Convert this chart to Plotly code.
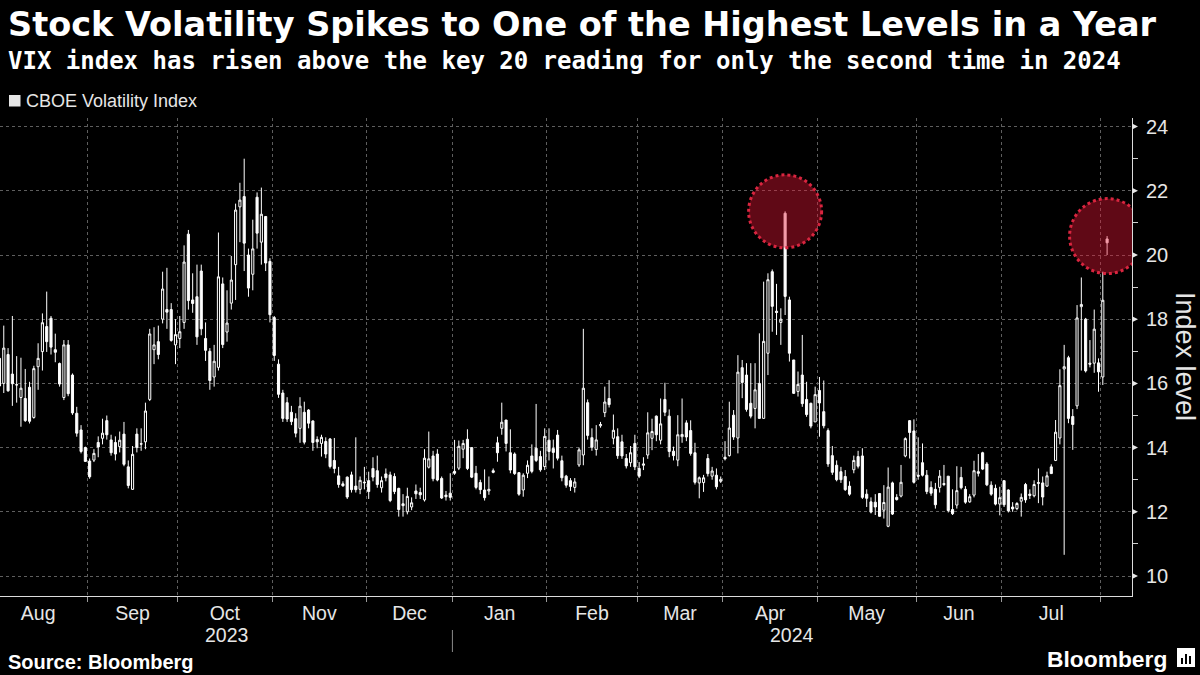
import pandas as pd
import plotly.graph_objects as go

# ---------------- data ----------------
# trading slots shown on the chart (weekdays; the three full closures are skipped)
closed_days = ["2023-12-25", "2024-01-01", "2024-03-29"]
dates = [d for d in pd.bdate_range("2023-08-03", "2024-08-02")
         if d.strftime("%Y-%m-%d") not in closed_days]

opens = [
    16.78, 16.00, 16.90, 16.29, 15.95, 15.56, 15.53, 15.88, 14.94, 16.52, 16.99, 17.77, 18.03, 17.05, 16.62, 15.56, 17.20, 16.26, 15.07, 14.55, 14.00,
    13.58, 13.61, 14.16, 14.29, 14.84, 14.24, 14.16, 14.03, 14.42, 13.40, 12.70, 14.42, 14.12, 14.18, 15.50, 17.05, 17.30, 18.00, 18.30, 18.30, 17.20,
    17.40, 17.90, 20.65, 18.60, 18.70, 19.50, 17.40, 17.00, 16.20, 16.50, 19.10, 17.60, 18.50, 19.70, 21.50, 21.82, 20.00, 19.40, 21.80, 20.40, 21.20, 19.80,
    18.05, 16.60, 15.70, 15.40, 15.10, 14.90, 14.60, 15.10, 15.17, 14.83, 14.25, 14.13, 14.19, 14.27, 13.60, 13.12, 12.87, 13.08, 13.15, 12.80, 12.70, 12.90,
    12.97, 13.35, 13.28, 12.75, 13.18, 13.15, 13.10, 12.73, 12.25, 12.00, 12.15, 12.65, 12.60, 12.37, 13.39, 13.74, 13.80, 13.04, 12.52, 12.58,
    13.26, 13.36, 13.95, 14.26, 14.00, 13.20, 12.91, 12.68, 12.65, 13.28, 14.15, 14.60, 14.86, 13.84, 13.80, 13.22, 12.68, 13.20, 13.74, 13.98, 13.72, 13.41,
    14.23, 13.97, 14.39, 13.59, 13.11, 12.97, 12.76, 13.46, 13.77, 15.40, 14.31, 13.94, 14.68, 15.09, 15.53, 14.29, 14.34, 14.18, 13.66, 13.53, 14.13,
    13.35, 13.45, 13.77, 14.29, 14.98, 14.23, 15.50, 14.98, 13.89, 13.61, 14.34, 14.77, 14.53, 13.84, 12.90, 12.91, 13.66, 13.11, 13.14, 12.95,
    13.70, 13.75, 15.01, 14.30, 16.49, 16.26, 15.38, 15.22, 16.00, 14.91, 16.94, 19.48, 18.25, 17.90, 21.30, 18.60, 16.73, 15.75, 16.26, 15.50, 15.38, 14.80,
    15.78, 15.12, 14.53, 13.75, 13.45, 13.25, 13.10, 12.80, 13.31, 13.72, 13.74, 12.55, 12.31, 12.30, 12.57, 12.05, 11.55, 12.90, 12.45, 12.49, 13.74, 14.84, 14.52,
    13.14, 13.53, 13.14, 12.76, 12.70, 12.76, 12.88, 13.11, 12.07, 12.21, 13.07, 12.70, 12.31, 12.52, 13.25, 13.84, 13.49, 12.83, 12.73, 12.24,
    12.97, 12.68, 12.15, 12.10, 12.33, 12.85, 12.55, 12.50, 12.88, 12.90, 12.80, 13.40, 13.60, 14.30, 16.45, 16.80, 14.97, 15.30, 18.39, 18.00, 16.63, 16.63, 16.64,
    16.20, 20.50,
]
highs = [
    17.30, 17.80, 17.10, 18.10, 16.85, 16.80, 16.45, 16.05, 16.55, 17.25, 18.18, 18.86, 18.10, 17.55, 16.65, 17.35, 17.35, 16.31, 15.27, 14.70, 14.03,
    13.66, 13.95, 14.35, 14.90, 15.00, 14.40, 14.35, 14.50, 14.80, 13.60, 14.05, 14.60, 14.60, 15.40, 17.70, 17.75, 17.80, 19.48, 19.60, 18.50, 18.00,
    18.10, 20.30, 20.78, 19.43, 19.70, 19.70, 17.90, 17.10, 17.20, 20.70, 19.30, 18.90, 19.97, 21.60, 22.25, 23.00, 20.20, 21.10, 21.95, 22.10, 21.20, 19.90,
    18.10, 16.75, 15.80, 15.57, 15.30, 15.07, 15.57, 15.43, 15.20, 14.85, 14.35, 14.40, 14.32, 14.30, 14.30, 13.40, 12.95, 13.10, 13.25, 14.32, 13.10, 13.40,
    13.25, 13.70, 13.75, 13.10, 13.35, 13.25, 13.20, 12.75, 12.55, 12.75, 12.45, 12.85, 12.75, 13.95, 14.50, 13.90, 13.95, 13.10, 12.65, 13.20,
    14.24, 14.22, 14.24, 14.57, 14.00, 13.43, 13.00, 13.32, 13.10, 13.35, 14.34, 15.40, 14.86, 14.57, 13.85, 13.22, 13.20, 13.60, 14.10, 15.36, 13.90, 14.60,
    14.60, 14.25, 14.55, 13.75, 13.15, 13.05, 13.05, 14.00, 17.70, 15.50, 14.60, 14.70, 14.80, 15.90, 16.10, 15.03, 14.60, 14.40, 13.80, 14.05, 14.40,
    13.55, 13.70, 15.10, 14.90, 15.00, 15.53, 16.02, 15.19, 14.03, 15.01, 15.53, 14.85, 14.85, 14.15, 13.10, 13.15, 13.80, 13.40, 13.35, 13.10,
    14.20, 15.43, 15.17, 16.88, 16.73, 16.63, 16.63, 16.63, 17.56, 19.17, 19.43, 19.55, 19.10, 18.34, 21.36, 18.70, 16.73, 16.37, 17.51, 16.05, 15.40, 15.90,
    16.20, 16.09, 14.60, 14.05, 13.60, 13.40, 13.30, 12.95, 13.75, 13.90, 13.98, 12.70, 12.45, 12.55, 12.57, 12.83, 13.38, 12.94, 12.55, 13.46, 14.32, 14.86, 14.88,
    14.32, 14.13, 13.30, 12.95, 12.90, 13.30, 13.46, 13.11, 12.70, 13.42, 13.40, 12.80, 12.55, 13.59, 13.80, 13.87, 13.55, 12.95, 12.85, 12.78,
    12.97, 12.70, 12.30, 12.30, 12.57, 12.90, 12.70, 12.98, 13.35, 13.10, 13.25, 13.48, 14.86, 16.44, 17.20, 16.86, 15.20, 18.44, 19.30, 18.04, 17.35, 18.30, 16.78,
    19.48, 20.59,
]
lows = [
    15.60, 15.70, 15.74, 15.30, 15.40, 14.65, 14.80, 14.75, 14.90, 15.80, 16.40, 16.98, 16.90, 16.66, 15.90, 15.48, 15.60, 15.02, 14.34, 13.82, 13.56,
    13.03, 13.55, 13.70, 14.10, 14.25, 13.75, 13.60, 13.85, 13.42, 12.73, 12.68, 13.85, 13.90, 13.95, 15.45, 16.60, 16.75, 17.87, 17.70, 17.30, 16.60,
    17.10, 17.70, 18.30, 18.20, 17.20, 17.50, 16.70, 15.80, 15.90, 16.40, 17.10, 17.30, 18.30, 18.60, 20.40, 19.50, 18.70, 18.90, 20.20, 19.70, 19.50, 17.90,
    16.70, 15.55, 14.80, 14.80, 14.70, 14.32, 14.15, 14.10, 14.60, 13.90, 13.98, 13.72, 13.67, 13.35, 13.20, 12.75, 12.78, 12.40, 12.60, 12.60, 12.55, 12.70,
    12.40, 12.95, 12.75, 12.60, 12.95, 12.30, 12.55, 11.85, 11.85, 11.92, 12.05, 12.40, 12.40, 12.32, 13.35, 12.95, 12.95, 12.40, 12.35, 12.35,
    13.15, 13.30, 13.67, 13.30, 13.05, 12.70, 12.55, 12.35, 12.53, 13.20, 13.56, 14.40, 13.88, 13.20, 13.15, 12.50, 12.47, 13.05, 13.20, 13.55, 13.25, 13.30,
    13.60, 13.35, 13.60, 12.95, 12.75, 12.65, 12.60, 13.40, 13.45, 14.25, 13.90, 13.75, 14.62, 14.95, 15.25, 14.10, 13.65, 13.65, 13.35, 13.40, 13.30,
    13.05, 13.30, 13.65, 13.92, 14.20, 14.10, 14.98, 13.70, 13.60, 13.42, 14.15, 14.20, 13.75, 12.85, 12.42, 12.62, 13.10, 13.00, 12.70, 12.90,
    13.60, 13.72, 14.24, 13.82, 15.54, 15.12, 14.91, 14.60, 14.91, 14.91, 16.26, 17.61, 17.51, 17.20, 18.13, 16.68, 15.67, 15.59, 15.27, 14.96, 14.60, 14.80,
    14.34, 14.60, 13.40, 13.15, 12.95, 12.90, 12.65, 12.50, 13.20, 13.35, 12.40, 12.15, 11.95, 11.90, 11.85, 11.79, 11.52, 11.90, 12.35, 12.45, 13.70, 13.66, 12.88,
    13.00, 13.10, 12.55, 12.50, 12.10, 12.60, 12.80, 11.98, 11.90, 12.10, 12.70, 12.25, 12.28, 12.45, 13.10, 13.30, 12.80, 12.50, 12.20, 11.89,
    12.15, 11.98, 12.00, 12.05, 11.85, 12.28, 12.40, 12.45, 12.27, 12.20, 12.78, 13.18, 13.58, 14.10, 10.66, 14.76, 13.93, 15.20, 16.40, 16.34, 16.50, 16.33, 15.74,
    15.95, 20.00,
]
closes = [
    15.92, 17.10, 15.77, 15.99, 15.96, 15.85, 14.84, 14.82, 16.46, 16.78, 17.89, 17.30, 17.13, 16.97, 15.98, 17.20, 15.68, 15.08, 14.45, 13.88, 13.57,
    13.09, 13.82, 14.02, 14.45, 14.40, 13.84, 13.80, 14.23, 13.48, 12.82, 13.79, 14.00, 14.11, 15.14, 17.54, 17.20, 16.90, 18.94, 18.22, 17.34, 17.52,
    17.61, 19.78, 18.58, 18.49, 17.45, 17.70, 17.03, 16.09, 16.69, 19.32, 17.21, 17.88, 19.22, 21.40, 21.71, 20.37, 18.97, 20.19, 20.68, 21.27, 19.75, 18.14,
    16.87, 15.66, 14.91, 14.89, 14.81, 14.45, 15.29, 14.17, 14.76, 14.16, 14.18, 14.32, 13.80, 13.41, 13.35, 12.85, 12.81, 12.46, 12.69, 12.69, 12.98, 12.92,
    12.63, 13.08, 12.85, 12.97, 13.06, 12.35, 12.63, 12.07, 12.19, 12.48, 12.28, 12.56, 12.53, 13.67, 13.65, 13.03, 12.99, 12.43, 12.47, 12.45,
    13.20, 14.04, 14.13, 13.35, 13.08, 12.76, 12.69, 12.44, 12.70, 13.23, 13.84, 14.79, 14.13, 13.30, 13.19, 12.55, 13.14, 13.45, 13.26, 13.60, 13.31, 14.35,
    13.88, 13.85, 13.67, 13.06, 12.83, 12.79, 12.93, 13.93, 15.85, 14.38, 14.01, 14.24, 14.72, 15.42, 15.34, 14.54, 13.75, 13.74, 13.43, 13.84, 13.40,
    13.11, 13.49, 14.46, 14.50, 14.40, 14.74, 15.10, 13.88, 13.75, 14.40, 14.41, 14.33, 13.82, 12.92, 13.06, 13.06, 13.19, 13.27, 12.78, 13.01,
    13.65, 14.61, 14.33, 16.35, 16.03, 15.19, 14.98, 15.80, 14.91, 17.31, 19.23, 18.40, 18.21, 18.00, 18.71, 16.94, 15.69, 15.97, 15.37, 15.03, 14.67, 15.65,
    15.39, 14.68, 13.49, 13.23, 13.00, 13.00, 12.69, 12.55, 13.60, 13.42, 12.45, 12.42, 11.99, 12.15, 11.86, 12.29, 12.77, 11.93, 12.38, 12.92, 14.28, 14.47, 12.92,
    13.11, 13.14, 12.63, 12.58, 12.22, 13.11, 12.85, 12.04, 11.94, 12.66, 12.75, 12.30, 12.47, 13.28, 13.20, 13.33, 12.84, 12.55, 12.24, 12.44,
    12.22, 12.03, 12.09, 12.26, 12.45, 12.37, 12.51, 12.85, 12.91, 12.46, 13.12, 13.19, 14.48, 15.93, 16.52, 14.91, 14.72, 18.04, 18.46, 16.39, 16.60, 17.69, 16.36,
    18.59, 20.38,
]

month_labels = ["Aug", "Sep", "Oct", "Nov", "Dec", "Jan", "Feb", "Mar", "Apr", "May", "Jun", "Jul"]
year_labels = ["2023", "2024"]
y_major = [10, 12, 14, 16, 18, 20, 22, 24]
y_minor = [11, 13, 15, 17, 19, 21, 23]
highlight_dates = ["2024-04-19", "2024-08-02"]

# ---------------- geometry ----------------
W, H = 1200, 675
ML, MR, MT, MB = 0, 68, 118, 79
PW, PH = W - ML - MR, H - MT - MB
X_RANGE = [0.12, 263.8]
Y_RANGE = [9.377, 24.268]
px_x = PW / (X_RANGE[1] - X_RANGE[0])
px_y = PH / (Y_RANGE[1] - Y_RANGE[0])

x = list(range(len(dates)))
date_str = [d.strftime("%Y-%m-%d") for d in dates]

# month boundaries (first slot of each month) -> tick/grid positions
firsts = []
prev = None
for i, d in enumerate(dates):
    key = (d.year, d.month)
    if key != prev:
        firsts.append(i)
        prev = key
bounds = [f - 0.5 for f in firsts[1:]]           # Sep .. Aug boundaries
left_virtual = -2.5                               # Aug 1 2023 (two slots before first shown)
edges = [left_virtual] + bounds
label_pos = [(edges[k] + edges[k + 1]) / 2 for k in range(len(month_labels))]
jan_bound = bounds[4]

font_main = "Liberation Sans, Arial, sans-serif"
txt = "#e6e6e6"

fig = go.Figure()
fig.add_trace(go.Candlestick(
    x=x, open=opens, high=highs, low=lows, close=closes,
    increasing=dict(line=dict(color="#ffffff", width=1), fillcolor="#000000"),
    decreasing=dict(line=dict(color="#ffffff", width=1), fillcolor="#ffffff"),
    whiskerwidth=0, showlegend=False, hoverinfo="skip",
))

shapes = []
# highlight circles
for hd, rpx in zip(highlight_dates, [36.5, 37.5]):
    i = date_str.index(hd)
    cx, cy = x[i], highs[i]
    rx, ry = rpx / px_x, rpx / px_y
    shapes.append(dict(type="circle", xref="x", yref="y",
                       x0=cx - rx, x1=cx + rx, y0=cy - ry, y1=cy + ry,
                       fillcolor="rgba(228,22,52,0.42)",
                       line=dict(color="#d8253f", width=3, dash="dot"),
                       layer="above"))
# triangle markers on the right axis at major ticks
tri_w = 6 / PW
tri_h = 3 / px_y
for v in y_major:
    shapes.append(dict(type="path", xref="paper", yref="y",
                       path=f"M 1,{v + tri_h} L {1 + tri_w},{v} L 1,{v - tri_h} Z",
                       fillcolor="#e6e6e6", line=dict(width=0)))
# year separator
shapes.append(dict(type="line", xref="x", yref="paper", x0=jan_bound, x1=jan_bound,
                   y0=-(630 - (H - MB)) / PH, y1=-(652 - (H - MB)) / PH,
                   line=dict(color="#8a8a8a", width=1)))
# legend swatch
def pxp(xp, yp):
    return (xp - ML) / PW, (H - MB - yp) / PH
lx0, ly0 = pxp(9, 106.5)
lx1, ly1 = pxp(20.5, 95)
shapes.append(dict(type="rect", xref="paper", yref="paper", x0=lx0, x1=lx1, y0=ly0, y1=ly1,
                   fillcolor="#e6e6e6", line=dict(width=0)))
# Bloomberg icon
ix0, iy0 = pxp(1177, 667)
ix1, iy1 = pxp(1195, 648)
shapes.append(dict(type="rect", xref="paper", yref="paper", x0=ix0, x1=ix1, y0=iy0, y1=iy1,
                   fillcolor="#ffffff", line=dict(width=0)))
for bx, btop in [(1181, 658), (1185, 654), (1189, 656)]:
    a0, b0 = pxp(bx, 664)
    a1, b1 = pxp(bx + 2, btop)
    shapes.append(dict(type="rect", xref="paper", yref="paper", x0=a0, x1=a1, y0=b0, y1=b1,
                       fillcolor="#000000", line=dict(width=0)))

annotations = []
def ann(text, xp, yp, size, family=font_main, color="#ffffff", xanchor="left", angle=0, yanchor="middle"):
    ax, ay = pxp(xp, yp)
    annotations.append(dict(text=text, xref="paper", yref="paper", x=ax, y=ay,
                            xanchor=xanchor, yanchor=yanchor, showarrow=False, textangle=angle,
                            font=dict(family=family, size=size, color=color)))

ann("<b>Stock Volatility Spikes to One of the Highest Levels in a Year</b>", 6, 24, 33.5,
    family="DejaVu Sans, sans-serif")
ann("<b>VIX index has risen above the key 20 reading for only the second time in 2024</b>", 6, 61, 24,
    family="DejaVu Sans Mono, monospace")
ann("CBOE Volatility Index", 24, 101, 18, color=txt)
ann("<b>Source: Bloomberg</b>", 6, 662, 20)
ann("<b>Bloomberg</b>", 1169, 659, 22.8, xanchor="right")
ann("Index level", 1185, 356, 27, color=txt, xanchor="center", angle=90)
# year labels
for lab, (a, b) in zip(year_labels, [(X_RANGE[0], jan_bound), (jan_bound, X_RANGE[1])]):
    annotations.append(dict(text=lab, xref="x", yref="paper", x=(a + b) / 2,
                            y=-(635 - (H - MB)) / PH, xanchor="center", yanchor="middle",
                            showarrow=False, font=dict(family=font_main, size=19.5, color=txt)))

fig.update_layout(
    width=W, height=H, margin=dict(l=ML, r=MR, t=MT, b=MB),
    paper_bgcolor="#000000", plot_bgcolor="#000000",
    shapes=shapes, annotations=annotations, showlegend=False,
    xaxis=dict(
        range=X_RANGE, rangeslider=dict(visible=False),
        tickmode="array", tickvals=label_pos, ticktext=month_labels,
        ticks="", showgrid=False, zeroline=False,
        tickfont=dict(family=font_main, size=19.5, color=txt),
        showline=True, linecolor="#dcdcdc", linewidth=1,
        minor=dict(tickmode="array", tickvals=bounds, ticks="outside", ticklen=5,
                   tickcolor="#9a9a9a", showgrid=True, gridcolor="#5e5e5e",
                   griddash="3px,3px", gridwidth=1),
    ),
    yaxis=dict(
        range=Y_RANGE, side="right", tickmode="array", tickvals=y_major,
        ticktext=[str(v) for v in y_major], ticks="",
        tickfont=dict(family=font_main, size=20, color=txt),
        ticklabelstandoff=9,
        showgrid=True, gridcolor="#5e5e5e", griddash="3px,3px", gridwidth=1,
        zeroline=False, showline=True, linecolor="#dcdcdc", linewidth=1,
        minor=dict(tickmode="array", tickvals=y_minor, ticks="outside", ticklen=5,
                   tickcolor="#cfcfcf", showgrid=False),
    ),
)

fig.write_html("out.html", config={"displayModeBar": False, "staticPlot": True},
               post_script="document.body.style.margin='0';document.body.style.background='#000';")
